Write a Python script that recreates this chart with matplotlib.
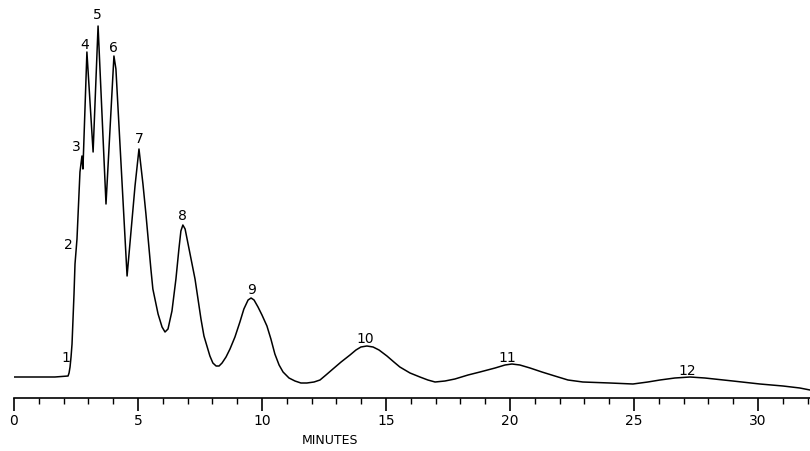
import matplotlib
matplotlib.use("Agg")
import matplotlib.pyplot as plt
from matplotlib.ticker import MultipleLocator

# detector trace (time in minutes, response in arbitrary units)
minutes = [0.0, 1.65, 2.18, 2.22, 2.26, 2.30, 2.34, 2.38, 2.42, 2.46, 2.54,
           2.66, 2.74, 2.78, 2.94, 3.19, 3.39, 3.71, 4.03, 4.11, 4.56, 4.88,
           5.04, 5.20, 5.32, 5.44, 5.52, 5.60, 5.81, 5.97, 6.09, 6.21, 6.37,
           6.53, 6.65, 6.73, 6.81, 6.90, 7.02, 7.18, 7.30, 7.42, 7.54, 7.66,
           7.78, 7.90, 8.02, 8.15, 8.27, 8.39, 8.55, 8.71, 8.91, 9.11, 9.27,
           9.44, 9.56, 9.68, 9.84, 10.00, 10.20, 10.36, 10.52, 10.69, 10.85,
           11.09, 11.33, 11.57, 11.81, 12.10, 12.34, 12.58, 12.86, 13.19,
           13.55, 13.79, 13.99, 14.23, 14.48, 14.72, 15.04, 15.32, 15.56,
           15.97, 16.37, 16.69, 16.98, 17.38, 17.78, 18.31, 18.79, 19.40,
           19.80, 20.08, 20.40, 20.81, 21.29, 21.81, 22.34, 22.94, 24.03,
           24.96, 25.56, 26.05, 26.65, 27.26, 27.86, 28.99, 30.08, 31.01,
           31.69, 32.10]
response = [0, 0, 1, 4, 10, 20, 33, 58, 83, 113, 138,
            205, 221, 208, 325, 225, 351, 173, 321, 308, 101, 191,
            228, 193, 163, 130, 108, 88, 63, 50, 45, 48, 66,
            98, 128, 146, 152, 148, 133, 113, 98, 78, 58, 41,
            31, 21, 14, 11, 11, 14, 20, 28, 40, 55, 68,
            77, 79, 77, 70, 62, 51, 38, 23, 12, 5,
            -1, -4, -6, -6, -5, -3, 2, 8, 15,
            22, 27, 30, 31, 30, 27, 21, 15, 10,
            4, 0, -3, -5, -4, -2, 2, 5, 9,
            12, 13, 12, 9, 5, 1, -3, -5, -6,
            -7, -5, -3, -1, 0, -1, -4, -7, -9,
            -11, -13]

# peak numbers and where they are written
peak_labels = ["1", "2", "3", "4", "5", "6", "7", "8", "9", "10", "11", "12"]
label_t = [2.10, 2.18, 2.50, 2.86, 3.35, 3.99, 5.04, 6.81, 9.60, 14.15, 19.88, 27.14]
label_y = [20, 133, 231, 333, 363, 330, 239, 162, 88, 39, 20, 7]

fig = plt.figure(figsize=(8.1, 4.52), dpi=100)
ax = fig.add_axes([14 / 810, 53 / 452, 796 / 810, 389 / 452])

ax.plot(minutes, response, color="black", lw=1.1, solid_joinstyle="round")

for lab, t, y in zip(peak_labels, label_t, label_y):
    ax.text(t, y, lab, ha="center", va="center", fontsize=10, clip_on=False)

ax.set_xlim(0, 32.1)
ax.set_ylim(-21, 368)

for s in ["left", "right", "top"]:
    ax.spines[s].set_visible(False)
ax.spines["bottom"].set_linewidth(1.2)
ax.set_yticks([])

ax.xaxis.set_major_locator(MultipleLocator(5))
ax.xaxis.set_minor_locator(MultipleLocator(1))
ax.tick_params(axis="x", which="major", direction="out", length=9, width=1.2,
               labelsize=10, pad=2)
ax.tick_params(axis="x", which="minor", direction="out", length=4, width=1.0)

ax.set_xlabel("MINUTES", fontsize=9)
ax.xaxis.set_label_coords((330 - 14) / 796, -0.09)

fig.savefig("out.png", dpi=100)
